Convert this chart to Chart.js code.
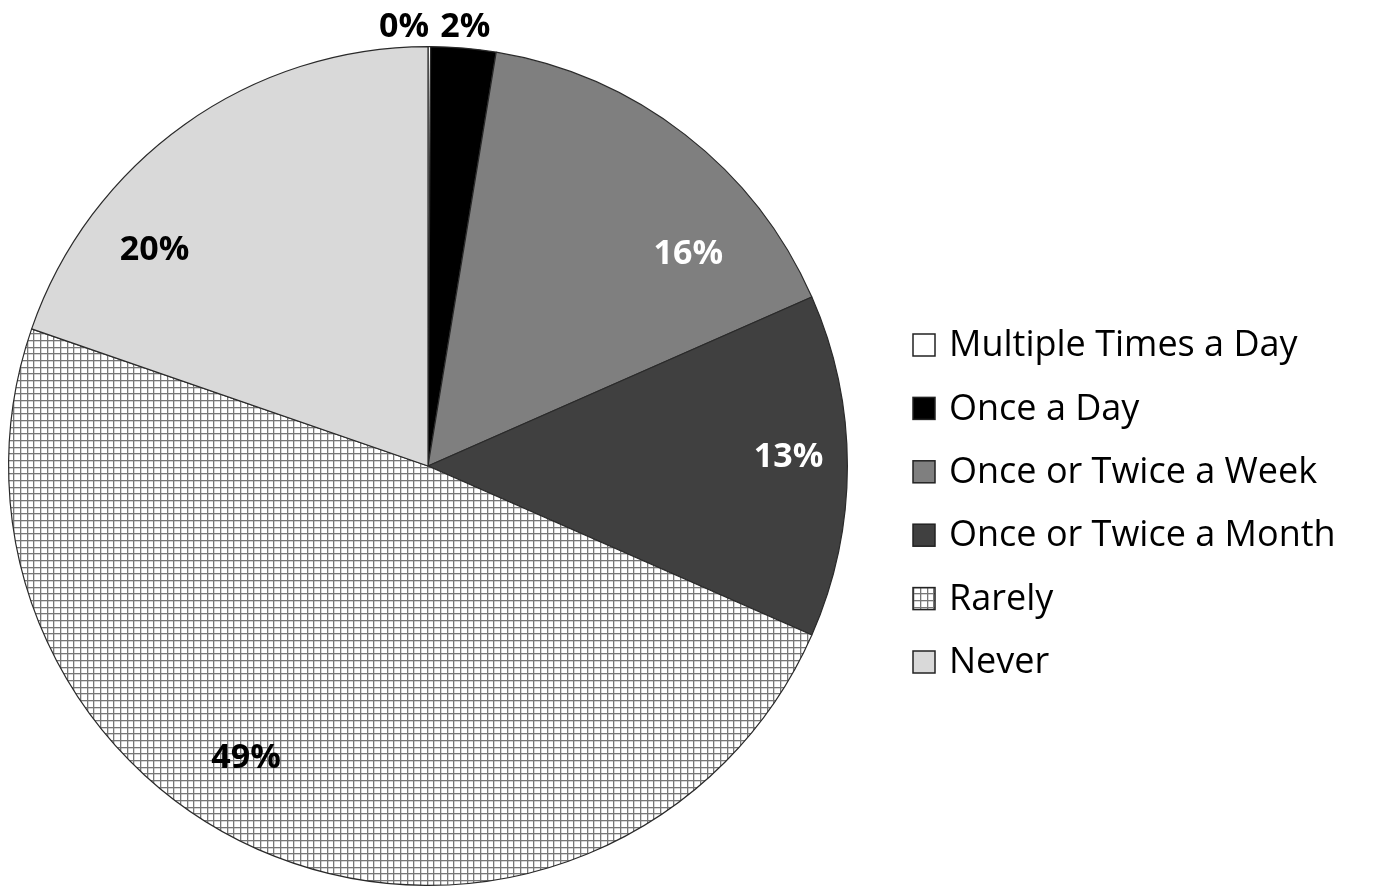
<!DOCTYPE html>
<html>
<head>
<meta charset="utf-8">
<script src="https://cdn.jsdelivr.net/npm/chart.js@4.4.1/dist/chart.umd.min.js"></script>
<style>
  html, body { margin: 0; padding: 0; background: #ffffff; }
  #wrap { width: 1373px; height: 890px; position: relative; }
</style>
</head>
<body>
<div id="wrap"><canvas id="c"></canvas></div>
<script>
// ---- data ----
const categories = ["Multiple Times a Day", "Once a Day", "Once or Twice a Week", "Once or Twice a Month", "Rarely", "Never"];
const shares = [0.1, 2.5, 15.8, 13.2, 48.7, 19.7];
const shownLabels = ["0%", "2%", "16%", "13%", "49%", "20%"];

// ---- styles ----
function gridPattern() {
  const s = 20;
  const c = document.createElement('canvas');
  c.width = s; c.height = s;
  const g = c.getContext('2d');
  g.fillStyle = '#ffffff';
  g.fillRect(0, 0, s, s);
  g.fillStyle = '#777777';
  [0, 7, 13].forEach(p => { g.fillRect(p, 0, 1.3, s); g.fillRect(0, p, s, 1.3); });
  return g.createPattern(c, 'repeat');
}
const fills = ['#ffffff', '#000000', '#7f7f7f', '#404040', gridPattern(), '#d9d9d9'];
const labelColors = ['#000', '#000', '#fff', '#fff', '#000', '#000'];
// label placement within slice: fraction along the arc, radius ratio, extra angle (deg)
const labelT = [0.5, 0.5, 0.73, 0.47, 0.56, 0.27];
const labelK = [1.047, 1.05, 0.80, 0.86, 0.82, 0.83];
const labelExtraDeg = [-3.3, 0, 0, 0, 0, 0];

const sliceLabels = {
  id: 'sliceLabels',
  afterDatasetsDraw(chart) {
    const ctx = chart.ctx;
    const meta = chart.getDatasetMeta(0);
    ctx.save();
    ctx.font = 'bold 34px "Open Sans", sans-serif';
    ctx.textAlign = 'center';
    ctx.textBaseline = 'middle';
    meta.data.forEach((arc, i) => {
      const p = arc.getProps(['x', 'y', 'startAngle', 'endAngle', 'outerRadius'], true);
      const a = p.startAngle + labelT[i] * (p.endAngle - p.startAngle) + labelExtraDeg[i] * Math.PI / 180;
      const r = labelK[i] * p.outerRadius;
      ctx.fillStyle = labelColors[i];
      ctx.fillText(shownLabels[i], p.x + Math.cos(a) * r, p.y + Math.sin(a) * r);
    });
    ctx.restore();
  }
};

const sideLegend = {
  id: 'sideLegend',
  afterDraw(chart) {
    const ctx = chart.ctx;
    const ds = chart.data.datasets[0];
    const x0 = 913, y0 = 345, step = 63.4, box = 22;
    ctx.save();
    ctx.font = '36px "Open Sans", sans-serif';
    ctx.textBaseline = 'middle';
    ctx.textAlign = 'left';
    chart.data.labels.forEach((lab, i) => {
      const cy = y0 + i * step;
      ctx.fillStyle = ds.backgroundColor[i];
      ctx.fillRect(x0, cy - box / 2, box, box);
      ctx.strokeStyle = '#222';
      ctx.lineWidth = 1.5;
      ctx.strokeRect(x0, cy - box / 2, box, box);
      ctx.fillStyle = '#000';
      ctx.fillText(lab, 949, cy + 1);
    });
    ctx.restore();
  }
};

const bgPlugin = {
  id: 'bg',
  beforeDraw(chart) {
    const ctx = chart.ctx;
    ctx.save();
    ctx.fillStyle = '#fff';
    ctx.fillRect(0, 0, chart.width, chart.height);
    ctx.restore();
  }
};

new Chart(document.getElementById('c'), {
  type: 'pie',
  data: {
    labels: categories,
    datasets: [{
      data: shares,
      backgroundColor: fills,
      borderColor: '#2a2a2a',
      borderWidth: 1.2,
      borderAlign: 'center'
    }]
  },
  options: {
    responsive: true,
    maintainAspectRatio: false,
    animation: false,
    devicePixelRatio: 1,
    layout: { padding: { left: 8, top: 46, right: 525, bottom: 4 } },
    plugins: {
      legend: { display: false },
      tooltip: { enabled: false }
    }
  },
  plugins: [bgPlugin, sliceLabels, sideLegend]
});
</script>
</body>
</html>
